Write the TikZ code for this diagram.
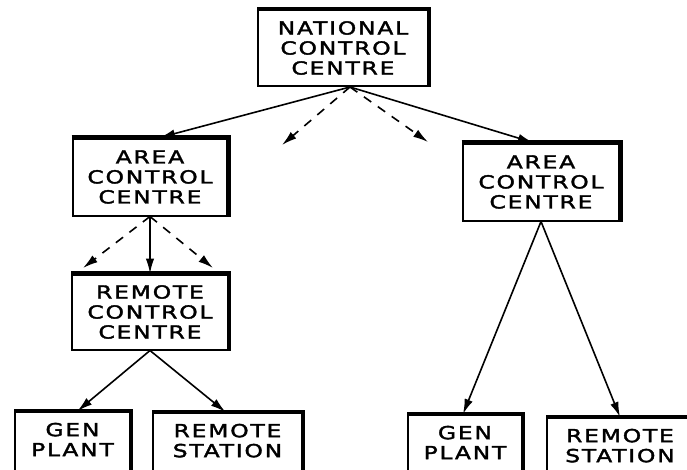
\documentclass[tikz,border=0pt]{standalone}
\usepackage{fontspec}
\usetikzlibrary{arrows.meta}
\newfontfamily\boxfont{DejaVu Sans}[FakeStretch=1.3,FakeBold=2,LetterSpace=10]
\begin{document}
\begin{tikzpicture}[x=1pt,y=-1pt,
  box/.style={draw, line width=2pt, align=center, inner sep=0pt,
    font=\boxfont\fontsize{18}{20}\selectfont},
  edge/.style={line width=4.4pt},
  arr/.style={-{Latex[length=15pt,width=8.5pt]}, line width=1.6pt},
  darr/.style={arr, dash pattern=on 9pt off 8pt}]
\useasboundingbox (0,0) rectangle (687,469);
\fill[white] (0,0) rectangle (687,469);

\node[box, minimum width=170pt, minimum height=76pt] (nat) at (343,48) {NATIONAL\\CONTROL\\CENTRE};
\node[box, minimum width=155pt, minimum height=77pt] (areaL) at (150,177) {AREA\\CONTROL\\CENTRE};
\node[box, minimum width=157pt, minimum height=77pt] (areaR) at (541,182) {AREA\\CONTROL\\CENTRE};
\node[box, minimum width=156pt, minimum height=75pt] (rcc) at (150,312) {REMOTE\\CONTROL\\CENTRE};
\node[box, minimum width=115pt, minimum height=75pt] (genL) at (72.5,449.5) {GEN\\PLANT\\~};
\node[box, minimum width=149pt, minimum height=75pt] (rsL) at (227.5,450.5) {REMOTE\\STATION\\~};
\node[box, minimum width=114pt, minimum height=75pt] (genR) at (465,452.5) {GEN\\PLANT\\~};
\node[box, minimum width=146pt, minimum height=75pt] (rsR) at (620,455.5) {REMOTE\\STATION\\~};

\foreach \n in {nat,areaL,areaR,rcc,genL,rsL,genR,rsR}
  \draw[edge] (\n.north west) -- (\n.north east) -- (\n.south east);

\coordinate (natout) at (350,87);
\coordinate (d1) at (282,145);
\coordinate (d2) at (428,142);
\coordinate (d3) at (83,268);
\coordinate (d4) at (213,268);

\draw[arr] (natout) -- ([xshift=10pt]areaL.north);
\draw[darr] (natout) -- (d1);
\draw[darr] (natout) -- (d2);
\draw[arr] (natout) -- ([xshift=-8pt]areaR.north);

\draw[darr] (areaL.south) -- (d3);
\draw[arr] (areaL.south) -- (rcc.north);
\draw[darr] (areaL.south) -- (d4);

\draw[arr] (rcc.south) -- ([xshift=5pt]genL.north);
\draw[arr] (rcc.south) -- ([xshift=-2pt]rsL.north);

\draw[arr] (areaR.south) -- ([xshift=-2pt]genR.north);
\draw[arr] (areaR.south) -- (rsR.north);
\end{tikzpicture}
\end{document}
